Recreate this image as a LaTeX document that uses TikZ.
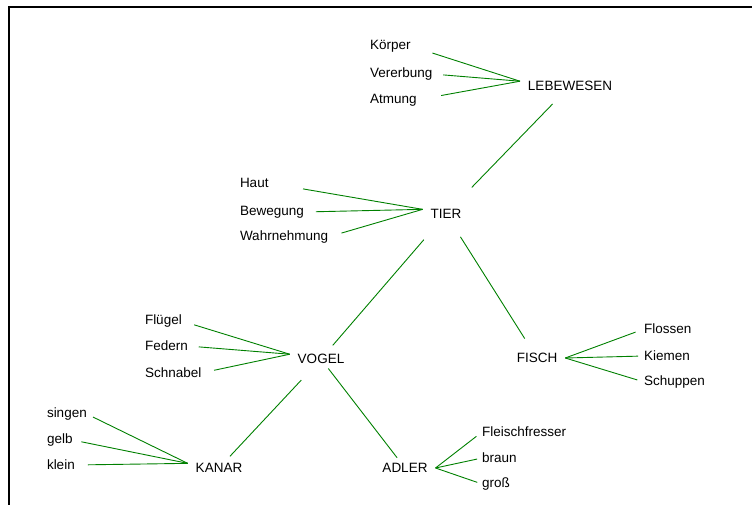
\documentclass[tikz,border=0pt]{standalone}
\usepackage{fontspec}
\setmainfont{Liberation Sans}
\definecolor{leafgreen}{RGB}{0,128,0}

\begin{document}
\begin{tikzpicture}[x=1pt,y=-1pt,
    every node/.style={font=\fontsize{13.5}{16}\selectfont, inner sep=0pt, outer sep=0pt},
    hub/.style={outer xsep=8pt},
    leaf/.style={anchor=west},
    link/.style={leafgreen, line width=0.9pt}]

    \useasboundingbox (0,0) rectangle (752,505);

    % frame
    \coordinate (frametop) at (752,7);
    \coordinate (framecorner) at (9,7);
    \coordinate (framebottom) at (9,505);
    \draw[line width=1.3pt] (frametop) -- (framecorner) -- (framebottom);

                \node[hub] (lebewesen) at (570,86) {LEBEWESEN};
                \node[leaf] (koerper) at (370,46) {Körper};
                \node[leaf] (vererbung) at (370,74) {Vererbung};
                \node[leaf] (atmung) at (370,100) {Atmung};

                \node[hub] (tier) at (446,214) {TIER};
                \node[leaf] (haut) at (240,183) {Haut};
                \node[leaf] (bewegung) at (240,212) {Bewegung};
                \node[leaf] (wahrnehmung) at (240,237) {Wahrnehmung};

                \node[hub] (vogel) at (321,359) {VOGEL};
                \node[leaf] (fluegel) at (145,321) {Flügel};
                \node[leaf] (federn) at (145,346) {Federn};
                \node[leaf] (schnabel) at (145,373) {Schnabel};

                \node[hub] (fisch) at (537,358) {FISCH};
                \node[leaf] (flossen) at (644,329) {Flossen};
                \node[leaf] (kiemen) at (644,356) {Kiemen};
                \node[leaf] (schuppen) at (644,382) {Schuppen};

                \node[hub] (kanar) at (219,468) {KANAR};
                \node[leaf] (singen) at (47,414) {singen};
                \node[leaf] (gelb) at (47,440) {gelb};
                \node[leaf] (klein) at (47,465) {klein};

                \node[hub] (adler) at (405,468) {ADLER};
                \node[leaf] (fleischfresser) at (482,432) {Fleischfresser};
                \node[leaf] (braun) at (482,458) {braun};
                \node[leaf] (gross) at (482,484) {groß};

                % Tree
                \draw[link, shorten <=37pt, shorten >=25pt] (tier.center) -- (lebewesen.center);
                \draw[link, shorten <=34pt, shorten >=18pt] (tier.center) -- (vogel.center);
                \draw[link, shorten <=27pt, shorten >=23pt] (tier.center) -- (fisch.center);
                \draw[link, shorten <=29pt, shorten >=16pt] (vogel.center) -- (kanar.center);
                \draw[link, shorten <=12pt, shorten >=13pt] (vogel.center) -- (adler.center);

                % Properties
                \draw[link, shorten <=23pt] (koerper.east) -- (lebewesen.north west);
                \draw[link, shorten <=11pt] (vererbung.east) -- (lebewesen.north west);
                \draw[link, shorten <=25pt] (atmung.east) -- (lebewesen.north west);

                \draw[link, shorten <=35pt] (haut.east) -- (tier.north west);
                \draw[link, shorten <=12pt] (bewegung.east) -- (tier.north west);
                \draw[link, shorten <=14pt] (wahrnehmung.east) -- (tier.north west);

                \draw[link, shorten <=13pt] (fluegel.east) -- (vogel.north west);
                \draw[link, shorten <=11pt] (federn.east) -- (vogel.north west);
                \draw[link, shorten <=13pt] (schnabel.east) -- (vogel.north west);

                \draw[link, shorten >=9pt] (fisch.east) -- (flossen.west);
                \draw[link, shorten >=6pt] (fisch.east) -- (kiemen.west);
                \draw[link, shorten >=7pt] (fisch.east) -- (schuppen.west);

                \draw[link, shorten <=7pt] (singen.east) -- (kanar.north west);
                \draw[link, shorten <=9pt] (gelb.east) -- (kanar.north west);
                \draw[link, shorten <=13pt] (klein.east) -- (kanar.north west);

                \draw[link, shorten >=7pt] (adler.east) -- (fleischfresser.west);
                \draw[link, shorten >=5pt] (adler.east) -- (braun.west);
                \draw[link, shorten >=5pt] (adler.east) -- (gross.west);

\end{tikzpicture}
\end{document}
